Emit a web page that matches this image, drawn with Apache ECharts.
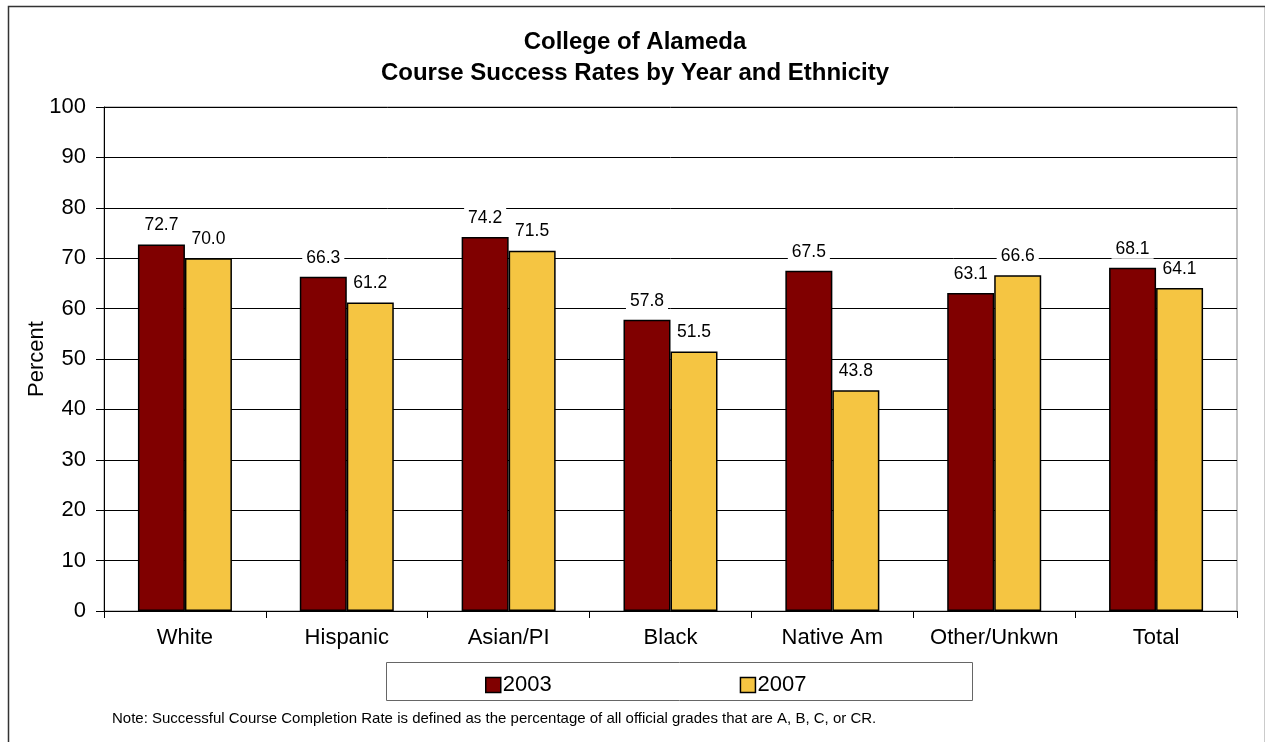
<!DOCTYPE html>
<html>
<head>
<meta charset="utf-8">
<script src="https://cdn.jsdelivr.net/npm/echarts@6/dist/echarts.min.js"></script>
<style>
html,body{margin:0;padding:0;background:#fff;}
#chart{width:1265px;height:742px;}
</style>
</head>
<body>
<div id="chart"></div>
<script>
const categories = ['White', 'Hispanic', 'Asian/PI', 'Black', 'Native Am', 'Other/Unkwn', 'Total'];
const values2003 = [72.7, 66.3, 74.2, 57.8, 67.5, 63.1, 68.1];
const values2007 = [70.0, 61.2, 71.5, 51.5, 43.8, 66.6, 64.1];
const yTicks = [0, 10, 20, 30, 40, 50, 60, 70, 80, 90, 100];
const seriesNames = ['2003', '2007'];

const FONT = '"Liberation Sans", Arial, sans-serif';
const chart = echarts.init(document.getElementById('chart'), null, {renderer: 'canvas'});

const labelCfg = {
  show: true,
  position: 'top',
  distance: 9,
  color: '#000',
  fontFamily: FONT,
  fontSize: 17.5,
  backgroundColor: '#fff',
  padding: [1, 4],
  formatter: p => p.value.toFixed(1)
};

chart.setOption({
  animation: false,
  backgroundColor: '#fff',
  title: {
    text: 'College of Alameda\nCourse Success Rates by Year and Ethnicity',
    left: 630,
    textAlign: 'center',
    top: 22,
    textStyle: {fontFamily: FONT, fontWeight: 'bold', fontSize: 24, lineHeight: 31, color: '#000'}
  },
  grid: {left: 104, right: 28, top: 107, bottom: 131, show: true, borderColor: '#888', borderWidth: 1, containLabel: false},
  legend: {
    data: seriesNames,
    left: 480,
    top: 669,
    itemWidth: 15,
    itemHeight: 15,
    itemGap: 188,
    icon: 'rect',
    textStyle: {fontFamily: FONT, fontSize: 22, color: '#000', padding: [0, 0, 0, -3]},
    itemStyle: {borderColor: '#000', borderWidth: 1.5}
  },
  xAxis: {
    type: 'category',
    data: categories,
    axisLine: {lineStyle: {color: '#000', width: 1}},
    axisTick: {show: true, interval: 0, length: 7, lineStyle: {color: '#000'}},
    axisLabel: {interval: 0, fontFamily: FONT, fontSize: 22, color: '#000', margin: 16}
  },
  yAxis: {
    type: 'value',
    min: yTicks[0],
    max: yTicks[yTicks.length - 1],
    interval: 10,
    name: 'Percent',
    nameLocation: 'middle',
    nameGap: 56,
    nameMoveOverlap: false,
    nameTextStyle: {fontFamily: FONT, fontSize: 22, color: '#000'},
    axisLine: {show: true, lineStyle: {color: '#000', width: 1}},
    axisTick: {show: true, length: 8, lineStyle: {color: '#000'}},
    axisLabel: {fontFamily: FONT, fontSize: 22, color: '#000', margin: 18},
    splitLine: {show: true, lineStyle: {color: '#000', width: 1}}
  },
  series: [
    {
      name: seriesNames[0],
      type: 'bar',
      data: values2003,
      barWidth: 47,
      barGap: '0%',
      itemStyle: {color: '#800000', borderColor: '#000', borderWidth: 1.5},
      label: labelCfg
    },
    {
      name: seriesNames[1],
      type: 'bar',
      data: values2007,
      barWidth: 47,
      barGap: '0%',
      itemStyle: {color: '#F5C542', borderColor: '#000', borderWidth: 1.5},
      label: labelCfg
    }
  ],
  graphic: [
    {type: 'rect', left: 6, top: 4, shape: {width: 1257, height: 760}, style: {fill: null, stroke: '#333', lineWidth: 1.5}, z: -1},
    {type: 'rect', left: 386, top: 662, shape: {width: 586, height: 38}, style: {fill: '#fff', stroke: '#666', lineWidth: 1}, z: -1},
    {type: 'text', left: 112, top: 711, style: {text: 'Note: Successful Course Completion Rate is defined as the percentage of all official grades that are A, B, C, or CR.', fontFamily: FONT, fontSize: 15, fill: '#000'}}
  ]
});
</script>
</body>
</html>
